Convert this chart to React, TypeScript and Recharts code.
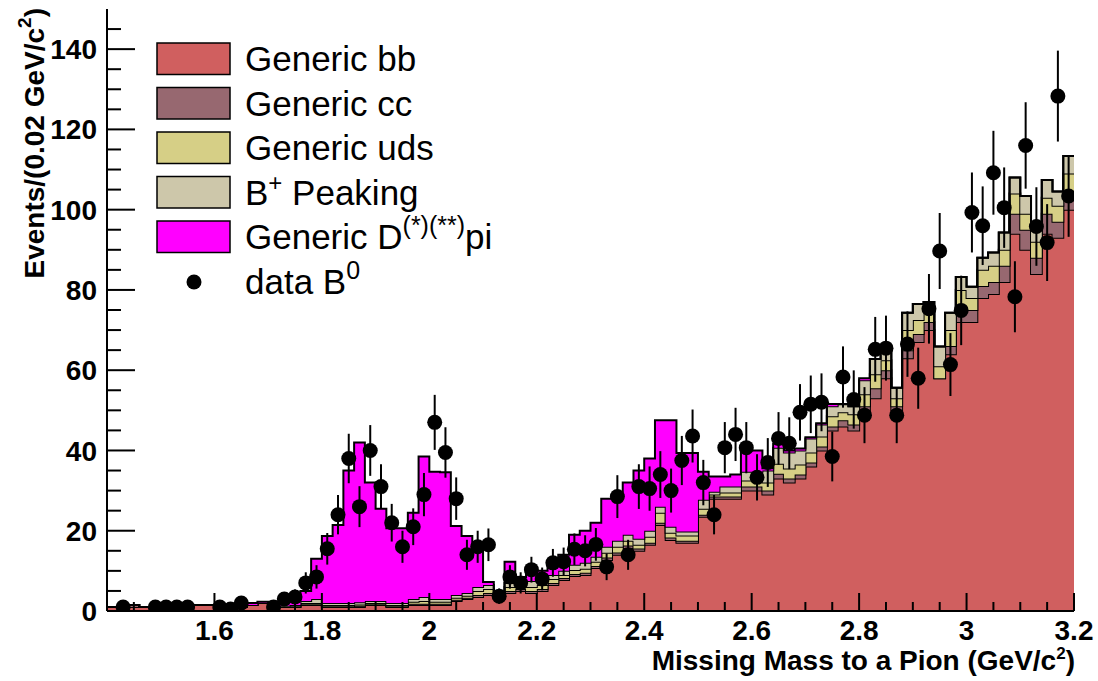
import React from "react";
import { ComposedChart, Area, Scatter, ErrorBar, XAxis, YAxis } from "recharts";

// 90 bins of 0.02 GeV/c^2 starting at 1.40
const BIN_LOW = 1.4;
const BIN_WIDTH = 0.02;

const genericBB = [
  1, 1, 1, 1, 0.5, 0.5, 1, 1, 1.5, 1.5,
  0.5, 0.5, 1, 1.5, 2, 2, 1, 1, 1.5, 1.5,
  1, 1, 1, 1, 1.5, 1.5, 1, 1, 1.5, 1.5,
  1.5, 1.5, 2.5, 3, 3.5, 4, 3, 4.5, 5, 4.5,
  5, 6.5, 7.7, 8.7, 9, 10.7, 12.7, 14, 15.7, 15,
  16.5, 21.4, 17.7, 17, 17, 23.5, 28, 28, 28, 30,
  30, 29, 33, 32, 33, 36, 40, 45, 46, 45,
  49, 53, 58, 50, 63, 67, 70, 58, 64, 72,
  72, 78, 79, 82, 94, 90, 84, 94, 93, 100,
];
const genericCC = [
  0, 0, 0.5, 0, 0, 0, 0, 0, 0, 0,
  0, 0, 0, 0, 0, 0, 0, 0, 0.2, 0.2,
  0.2, 0.2, 0.2, 0.3, 0.2, 0.2, 0.2, 0.2, 0.3, 0.3,
  0.3, 0.3, 0.3, 0.3, 0.5, 0.5, 0.3, 0.5, 0.5, 0.5,
  0.5, 0.5, 0.5, 0.5, 0.5, 0.5, 0.6, 0.6, 0.6, 0.6,
  0.5, 0.6, 0.6, 0.5, 0.5, 0.5, 0.5, 0.5, 0.5, 1,
  1, 1, 1.2, 1, 1, 1, 1, 1, 1.5, 1.5,
  2, 2.5, 2, 1, 2, 2, 2, 0, 2, 3,
  3, 3, 3, 4, 5, 5, 4, 5, 4, 4,
];
const genericUDS = [
  0, 0, 0, 0, 0, 0, 0, 0, 0, 0,
  0, 0, 0, 0, 0, 0, 0, 0.2, 0.3, 0.3,
  0.3, 0.3, 0.3, 0.3, 0.3, 0.3, 0.3, 0.3, 0.5, 0.7,
  0.5, 0.5, 0.5, 0.5, 1, 1, 0.3, 1, 1, 1,
  1, 1, 0.8, 1, 1, 1.1, 1.2, 1.4, 1.2, 0.9,
  1.5, 2.5, 1.2, 1.3, 1.3, 1.5, 0.5, 1, 1, 1.5,
  1.5, 2, 2.5, 2.5, 2.5, 2.5, 2.5, 2.5, 2, 2.5,
  3, 3.5, 2.5, 2, 5, 3.5, 2.5, 3, 4, 5,
  3, 4, 4, 4, 5, 4, 4, 4, 4, 5,
];
const bPlusPeaking = [
  0, 0, 0, 0, 0, 0, 0, 0, 0, 0,
  0, 0, 0, 0, 0, 0, 0.3, 0.3, 0.5, 1,
  0.5, 0.5, 0.5, 0.6, 0.5, 0.5, 0.5, 0.5, 0.7, 1,
  0.7, 0.7, 0.7, 0.7, 1, 1, 0.4, 1, 1.5, 1.5,
  1, 1, 1, 1.3, 1.5, 1.2, 1.5, 1.5, 1.5, 1.5,
  1.5, 1.5, 1.5, 1, 1, 2.2, 0.7, 1.5, 1.5, 2.2,
  2.2, 3, 4, 4, 3.5, 3.5, 3, 2.5, 2, 2,
  3.5, 3.8, 3, 2.6, 4.3, 4, 2.5, 4.9, 4.3, 3.2,
  2.8, 3, 3.3, 4.3, 4, 4.4, 4.6, 4.4, 3.5, 4.4,
];
const genericDpi = [
  0, 0, 0, 0, 0, 0, 0, 0, 0, 0,
  0, 0.5, 0.5, 0.5, 0.3, 0.3, 1.2, 1.5, 2.5, 10,
  16.7, 19.4, 33, 39.8, 29.5, 23, 18.6, 18.6, 21.5, 35,
  31.7, 31.6, 17.2, 14.2, 9.6, 0.7, 0.2, 5.3, 0.5, 2,
  2.5, 3, 4, 7.5, 8, 8.5, 12, 11.5, 13, 17,
  18, 21.5, 26.5, 19.6, 19.6, 7, 3.8, 2.5, 3, 5.3,
  5.3, 0.6, 1, 0.5, 0.5, 0.3, 0.3, 0.6, 0.1, 0,
  0.5, 0, 0, 0, 0, 0, 0, 0, 0, 0,
  0, 0, 0, 0, 0, 0, 0, 0, 0, 0,
];
// observed events per bin (null = empty bin, no marker)
const dataB0: (number | null)[] = [
  null, 1, null, null, 1, 1, 1, 1, null, null,
  1, 0.5, 2, null, null, 1, 3, 3.5, 7, 8.5,
  15.5, 24, 38, 26, 40, 31, 22, 16, 21, 29,
  47, 39.5, 28, 14, 16, 16.5, 3.7, 8.5, 7, 10.3,
  8, 12, 12.3, 15.4, 15, 16.6, 11, 28.5, 14, 31,
  30.5, 34, 30, 37.5, 43.6, 32, 24, 40.7, 44, 40.7,
  33.3, 37, 43, 41.8, 49.5, 51.5, 52, 38.5, 58.3, 52.7,
  48.8, 65.2, 65.5, 48.8, 66.5, 58, 75.3, 89.7, 61.4, 74.9,
  99.3, 96, 109.2, 100.5, 78.3, 116, 95.8, 91.8, 128.3, 103.4,
];

const xMajorTicks = [1.6, 1.8, 2, 2.2, 2.4, 2.6, 2.8, 3, 3.2];
const xMinorTicks = [
  1.45, 1.5, 1.55, 1.65, 1.7, 1.75, 1.85, 1.9, 1.95, 2.05, 2.1, 2.15,
  2.25, 2.3, 2.35, 2.45, 2.5, 2.55, 2.65, 2.7, 2.75, 2.85, 2.9, 2.95,
  3.05, 3.1, 3.15,
];
const yMajorTicks = [0, 20, 40, 60, 80, 100, 120, 140];
const yMinorTicks = [
  5, 10, 15, 25, 30, 35, 45, 50, 55, 65, 70, 75, 85, 90, 95, 105, 110, 115,
  125, 130, 135, 145,
];

const COLORS = {
  bb: "#d05f5f",
  cc: "#976870",
  uds: "#d6cf86",
  bpk: "#cdc7aa",
  dpi: "#ff00ff",
};

const W = 1098;
const H = 681;
const FONT = "'Liberation Sans', Arial, Helvetica, sans-serif";

const histRows = genericBB.map((_, i) => ({
  x: +(BIN_LOW + i * BIN_WIDTH).toFixed(2),
  bb: genericBB[i],
  cc: genericCC[i],
  uds: genericUDS[i],
  bpk: bPlusPeaking[i],
  dpi: genericDpi[i],
}));
// closing edge so the last bin gets its full width
histRows.push({ ...histRows[histRows.length - 1], x: 3.2 });

const points = dataB0
  .map((v, i) => ({ x: +(BIN_LOW + (i + 0.5) * BIN_WIDTH).toFixed(3), y: v, err: v == null ? 0 : Math.sqrt(v) }))
  .filter((p) => p.y != null);

const allXTicks = [...xMajorTicks, ...xMinorTicks].sort((a, b) => a - b);
const allYTicks = [...yMajorTicks, ...yMinorTicks].sort((a, b) => a - b);

const isMajor = (v: number, majors: number[]) => majors.some((m) => Math.abs(m - v) < 1e-6);

const labelStyle: React.CSSProperties = { fontFamily: FONT, fontWeight: 700, fontSize: 28, fill: "#000" };

function BottomTick(props: any) {
  const { x, y, payload } = props;
  const major = isMajor(payload.value, xMajorTicks);
  return (
    <g>
      <line x1={x} y1={y} x2={x} y2={y - (major ? 18 : 9)} stroke="#000" strokeWidth={2} />
      {major && (
        <text x={x} y={y + 29} textAnchor="middle" style={labelStyle}>
          {String(payload.value)}
        </text>
      )}
    </g>
  );
}

function TopTick(props: any) {
  const { x, y, payload } = props;
  const major = isMajor(payload.value, xMajorTicks);
  return <line x1={x} y1={y} x2={x} y2={y + (major ? 18 : 9)} stroke="#000" strokeWidth={2} />;
}

function LeftTick(props: any) {
  const { x, y, payload } = props;
  const major = isMajor(payload.value, yMajorTicks);
  return (
    <g>
      <line x1={x} y1={y} x2={x + (major ? 28 : 14)} y2={y} stroke="#000" strokeWidth={2} />
      {major && (
        <text x={x - 10} y={y} dy="0.36em" textAnchor="end" style={labelStyle}>
          {String(payload.value)}
        </text>
      )}
    </g>
  );
}

function RightTick(props: any) {
  const { x, y, payload } = props;
  const major = isMajor(payload.value, yMajorTicks);
  return <line x1={x} y1={y} x2={x - (major ? 28 : 14)} y2={y} stroke="#000" strokeWidth={2} />;
}

function Dot(props: any) {
  const { cx, cy } = props;
  return <circle cx={cx} cy={cy} r={7.5} fill="#000" />;
}

const legendRows = [
  { key: "bb", color: COLORS.bb, text: <>Generic bb</> },
  { key: "cc", color: COLORS.cc, text: <>Generic cc</> },
  { key: "uds", color: COLORS.uds, text: <>Generic uds</> },
  {
    key: "bpk",
    color: COLORS.bpk,
    text: (
      <>
        B<tspan dy={-14} fontSize={24}>+</tspan>
        <tspan dy={14}> Peaking</tspan>
      </>
    ),
  },
  {
    key: "dpi",
    color: COLORS.dpi,
    text: (
      <>
        Generic D<tspan dy={-15} fontSize={25}>(*)(**)</tspan>
        <tspan dy={15}>pi</tspan>
      </>
    ),
  },
];

function Overlay() {
  const legendFont: React.CSSProperties = { fontFamily: FONT, fontSize: 35, fill: "#000" };
  return (
    <svg width={W} height={H} style={{ position: "absolute", left: 0, top: 0, pointerEvents: "none" }}>
      {legendRows.map((r, k) => (
        <g key={r.key}>
          <rect x={157} y={43 + k * 44.5} width={73} height={31.5} fill={r.color} stroke="#000" strokeWidth={1.5} />
          <text x={245} y={71 + k * 44.5} style={legendFont}>
            {r.text}
          </text>
        </g>
      ))}
      <circle cx={194} cy={282} r={7.5} fill="#000" />
      <text x={245} y={294} style={legendFont}>
        data B<tspan dy={-15} fontSize={25}>0</tspan>
      </text>
      <text x={1075} y={670} textAnchor="end" style={labelStyle}>
        Missing Mass to a Pion (GeV/c<tspan dy={-11} fontSize={17}>2</tspan>
        <tspan dy={11}>)</tspan>
      </text>
      <text transform="translate(44,8) rotate(-90)" textAnchor="end" style={labelStyle}>
        Events/(0.02 GeV/c<tspan dy={-13} fontSize={19}>2</tspan>
        <tspan dy={13}>)</tspan>
      </text>
    </svg>
  );
}

export default function App() {
  return (
    <div style={{ position: "absolute", left: 0, top: 0, width: W, height: H, background: "#fff" }}>
      <ComposedChart width={W} height={H} data={histRows} margin={{ top: 9, right: 24, bottom: 0, left: 0 }}>
        <Area type="stepAfter" dataKey="bb" stackId="mc" fill={COLORS.bb} fillOpacity={1} stroke="#000" strokeWidth={2} dot={false} activeDot={false} isAnimationActive={false} />
        <Area type="stepAfter" dataKey="cc" stackId="mc" fill={COLORS.cc} fillOpacity={1} stroke="#000" strokeWidth={2} dot={false} activeDot={false} isAnimationActive={false} />
        <Area type="stepAfter" dataKey="uds" stackId="mc" fill={COLORS.uds} fillOpacity={1} stroke="#000" strokeWidth={2} dot={false} activeDot={false} isAnimationActive={false} />
        <Area type="stepAfter" dataKey="bpk" stackId="mc" fill={COLORS.bpk} fillOpacity={1} stroke="#000" strokeWidth={2} dot={false} activeDot={false} isAnimationActive={false} />
        <Area type="stepAfter" dataKey="dpi" stackId="mc" fill={COLORS.dpi} fillOpacity={1} stroke="#000" strokeWidth={2} dot={false} activeDot={false} isAnimationActive={false} />
        <Scatter data={points} dataKey="y" fill="#000" shape={<Dot />} isAnimationActive={false}>
          <ErrorBar dataKey="err" direction="y" width={0} stroke="#000" strokeWidth={2} />
        </Scatter>
        <XAxis
          dataKey="x"
          type="number"
          domain={[1.4, 3.2]}
          allowDataOverflow
          ticks={allXTicks}
          interval={0}
          height={70}
          tickSize={0}
          tickMargin={0}
          tickLine={false}
          tick={<BottomTick />}
          axisLine={{ stroke: "#000", strokeWidth: 2 }}
        />
        <XAxis
          xAxisId="top"
          orientation="top"
          dataKey="x"
          type="number"
          domain={[1.4, 3.2]}
          allowDataOverflow
          ticks={allXTicks}
          interval={0}
          height={0}
          tickSize={0}
          tickMargin={0}
          tickLine={false}
          tick={<TopTick />}
          axisLine={{ stroke: "#000", strokeWidth: 2 }}
        />
        <YAxis
          type="number"
          domain={[0, 150]}
          allowDataOverflow
          ticks={allYTicks}
          interval={0}
          width={107}
          tickSize={0}
          tickMargin={0}
          tickLine={false}
          tick={<LeftTick />}
          axisLine={{ stroke: "#000", strokeWidth: 2 }}
        />
        <YAxis
          yAxisId="right"
          orientation="right"
          type="number"
          domain={[0, 150]}
          allowDataOverflow
          ticks={allYTicks}
          interval={0}
          width={0}
          tickSize={0}
          tickMargin={0}
          tickLine={false}
          tick={<RightTick />}
          axisLine={{ stroke: "#000", strokeWidth: 2 }}
        />
      </ComposedChart>
      <Overlay />
    </div>
  );
}
